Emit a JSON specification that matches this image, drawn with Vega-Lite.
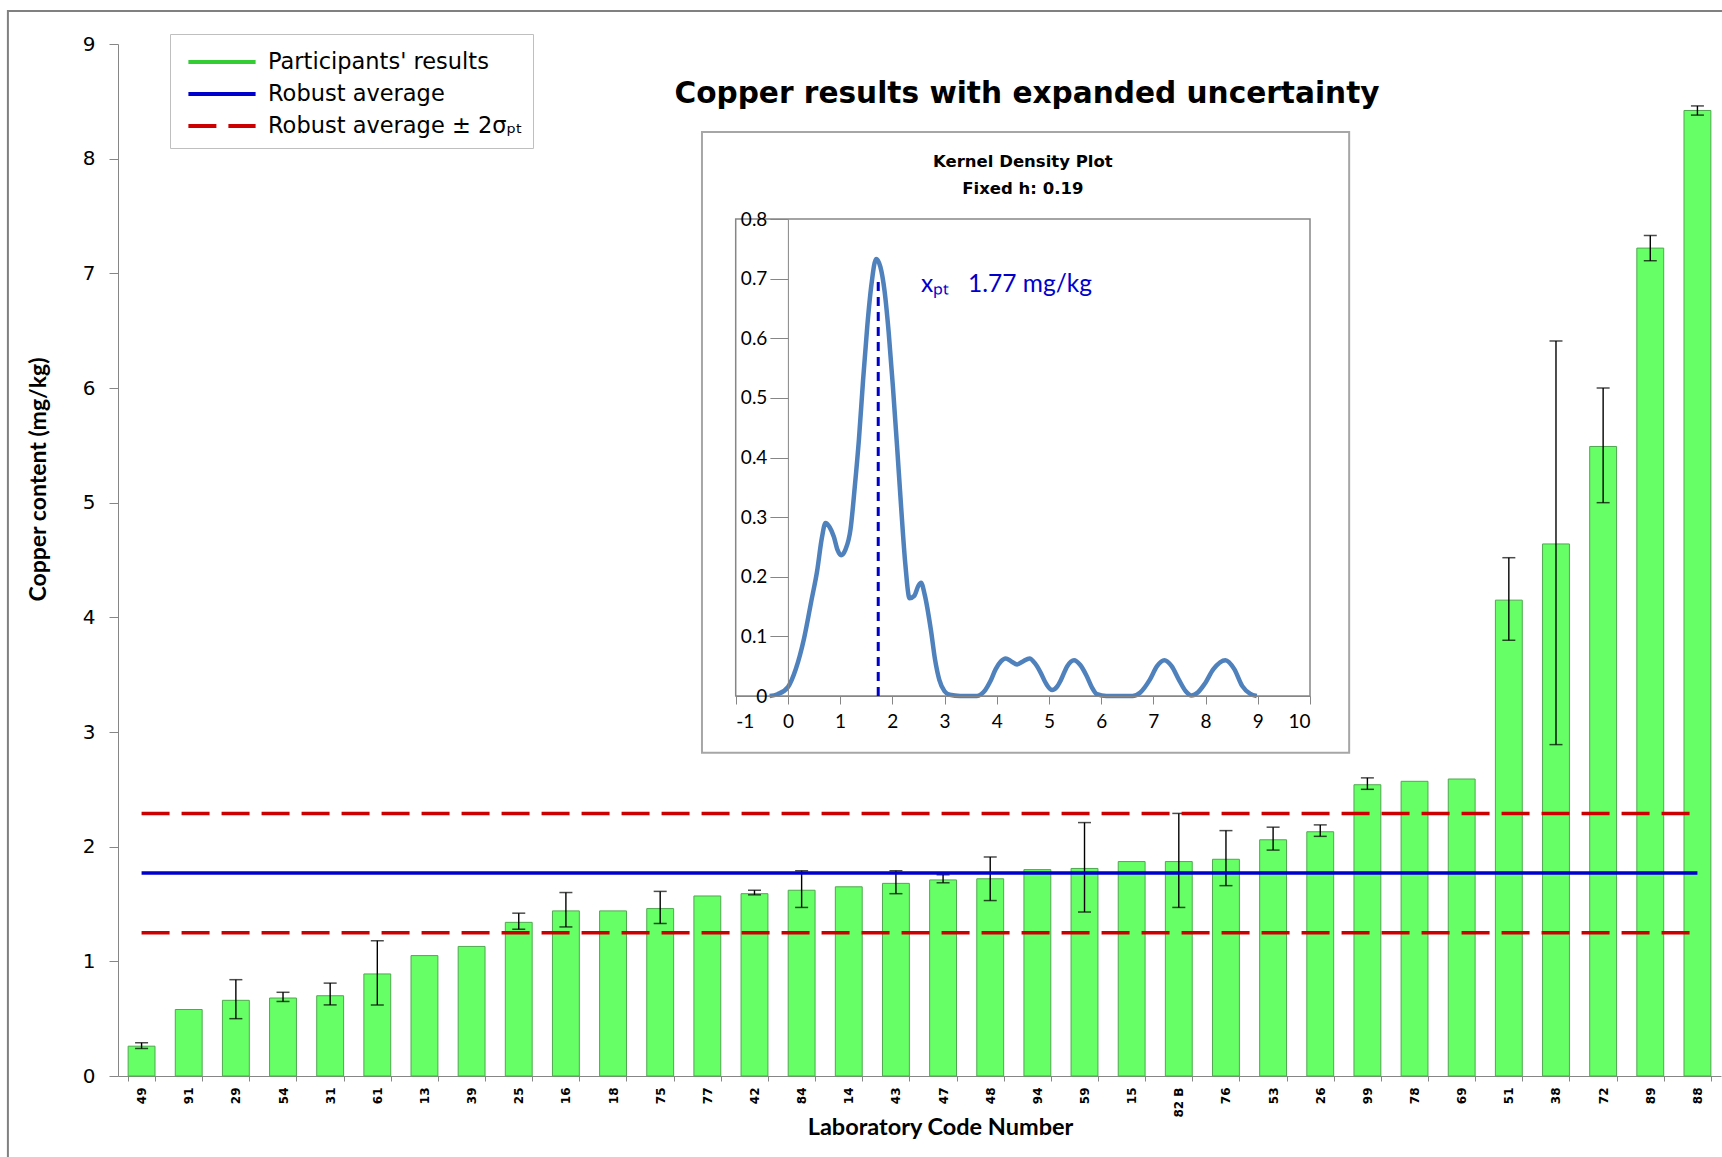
{
  "$schema": "https://vega.github.io/schema/vega-lite/v6.json",
  "width": 1603,
  "height": 1032,
  "autosize": "none",
  "padding": {"left": 118, "top": 44, "right": 1, "bottom": 81},
  "background": "white",
  "config": {"view": {"stroke": null}, "font": "DejaVu Sans"},
  "datasets": {
    "labs": [
      {"lab": "49", "value": 0.26, "lo": 0.24, "hi": 0.29},
      {"lab": "91", "value": 0.58},
      {"lab": "29", "value": 0.66, "lo": 0.50, "hi": 0.84},
      {"lab": "54", "value": 0.68, "lo": 0.65, "hi": 0.73},
      {"lab": "31", "value": 0.70, "lo": 0.62, "hi": 0.81},
      {"lab": "61", "value": 0.89, "lo": 0.62, "hi": 1.18},
      {"lab": "13", "value": 1.05},
      {"lab": "39", "value": 1.13},
      {"lab": "25", "value": 1.34, "lo": 1.28, "hi": 1.42},
      {"lab": "16", "value": 1.44, "lo": 1.30, "hi": 1.60},
      {"lab": "18", "value": 1.44},
      {"lab": "75", "value": 1.46, "lo": 1.33, "hi": 1.61},
      {"lab": "77", "value": 1.57},
      {"lab": "42", "value": 1.59, "lo": 1.58, "hi": 1.62},
      {"lab": "84", "value": 1.62, "lo": 1.47, "hi": 1.79},
      {"lab": "14", "value": 1.65},
      {"lab": "43", "value": 1.68, "lo": 1.59, "hi": 1.79},
      {"lab": "47", "value": 1.71, "lo": 1.685, "hi": 1.755},
      {"lab": "48", "value": 1.72, "lo": 1.53, "hi": 1.91},
      {"lab": "94", "value": 1.80},
      {"lab": "59", "value": 1.81, "lo": 1.43, "hi": 2.21},
      {"lab": "15", "value": 1.87},
      {"lab": "82 B", "value": 1.87, "lo": 1.47, "hi": 2.29},
      {"lab": "76", "value": 1.89, "lo": 1.66, "hi": 2.14},
      {"lab": "53", "value": 2.06, "lo": 1.97, "hi": 2.17},
      {"lab": "26", "value": 2.13, "lo": 2.09, "hi": 2.19},
      {"lab": "99", "value": 2.54, "lo": 2.50, "hi": 2.60},
      {"lab": "78", "value": 2.57},
      {"lab": "69", "value": 2.59},
      {"lab": "51", "value": 4.15, "lo": 3.80, "hi": 4.52},
      {"lab": "38", "value": 4.64, "lo": 2.89, "hi": 6.41},
      {"lab": "72", "value": 5.49, "lo": 5.00, "hi": 6.00},
      {"lab": "89", "value": 7.22, "lo": 7.11, "hi": 7.33},
      {"lab": "88", "value": 8.42, "lo": 8.38, "hi": 8.46}
    ],
    "lines": [
      {"series": "Robust average", "y": 1.77, "from": "49", "to": "88"},
      {"series": "Robust average ± 2σₚₜ", "y": 1.25, "from": "49", "to": "88"},
      {"series": "Robust average ± 2σₚₜ", "y": 2.29, "from": "49", "to": "88"}
    ],
    "kde": [
      {"x": -0.35, "d": 0}, {"x": -0.2, "d": 0.003}, {"x": 0, "d": 0.015}, {"x": 0.15, "d": 0.045},
      {"x": 0.31, "d": 0.097}, {"x": 0.45, "d": 0.16}, {"x": 0.56, "d": 0.21}, {"x": 0.65, "d": 0.265},
      {"x": 0.72, "d": 0.29}, {"x": 0.8, "d": 0.283}, {"x": 0.88, "d": 0.267}, {"x": 0.95, "d": 0.245},
      {"x": 1.02, "d": 0.236}, {"x": 1.1, "d": 0.245}, {"x": 1.2, "d": 0.28}, {"x": 1.28, "d": 0.35},
      {"x": 1.36, "d": 0.43}, {"x": 1.44, "d": 0.53}, {"x": 1.52, "d": 0.62}, {"x": 1.6, "d": 0.69},
      {"x": 1.69, "d": 0.733}, {"x": 1.77, "d": 0.72}, {"x": 1.85, "d": 0.68}, {"x": 1.93, "d": 0.61},
      {"x": 2.01, "d": 0.52}, {"x": 2.09, "d": 0.42}, {"x": 2.17, "d": 0.315}, {"x": 2.25, "d": 0.22},
      {"x": 2.33, "d": 0.164}, {"x": 2.42, "d": 0.168}, {"x": 2.5, "d": 0.185}, {"x": 2.55, "d": 0.19},
      {"x": 2.62, "d": 0.17}, {"x": 2.74, "d": 0.11}, {"x": 2.82, "d": 0.06}, {"x": 2.9, "d": 0.027},
      {"x": 3.0, "d": 0.008}, {"x": 3.1, "d": 0.002}, {"x": 3.3, "d": 0}, {"x": 3.62, "d": 0},
      {"x": 3.7, "d": 0.003}, {"x": 3.78, "d": 0.01}, {"x": 3.88, "d": 0.025}, {"x": 3.98, "d": 0.045},
      {"x": 4.08, "d": 0.058}, {"x": 4.17, "d": 0.063}, {"x": 4.28, "d": 0.058}, {"x": 4.39, "d": 0.053},
      {"x": 4.5, "d": 0.058}, {"x": 4.63, "d": 0.063}, {"x": 4.73, "d": 0.055}, {"x": 4.83, "d": 0.041},
      {"x": 4.95, "d": 0.02}, {"x": 5.06, "d": 0.01}, {"x": 5.15, "d": 0.015}, {"x": 5.23, "d": 0.027},
      {"x": 5.35, "d": 0.05}, {"x": 5.48, "d": 0.06}, {"x": 5.6, "d": 0.052}, {"x": 5.72, "d": 0.034},
      {"x": 5.82, "d": 0.015}, {"x": 5.92, "d": 0.003}, {"x": 6.1, "d": 0}, {"x": 6.6, "d": 0},
      {"x": 6.75, "d": 0.006}, {"x": 6.93, "d": 0.027}, {"x": 7.07, "d": 0.05}, {"x": 7.21, "d": 0.06},
      {"x": 7.35, "d": 0.05}, {"x": 7.49, "d": 0.027}, {"x": 7.62, "d": 0.008}, {"x": 7.73, "d": 0.001},
      {"x": 7.85, "d": 0.006}, {"x": 7.98, "d": 0.02}, {"x": 8.15, "d": 0.045}, {"x": 8.38, "d": 0.06},
      {"x": 8.55, "d": 0.045}, {"x": 8.7, "d": 0.017}, {"x": 8.85, "d": 0.004}, {"x": 8.98, "d": 0}
    ]
  },
  "layer": [
    {
      "layer": [
        {
          "data": {"name": "labs"},
          "mark": {"type": "bar", "fill": "#66FF66", "stroke": "#4FA84F", "strokeWidth": 1},
          "encoding": {
            "x": {"field": "lab", "type": "nominal", "sort": null, "title": "Laboratory  Code Number",
              "scale": {"paddingInner": 0.43, "paddingOuter": 0.215},
              "axis": {"labelAngle": -90, "labelFont": "DejaVu Sans", "labelFontWeight": "bold", "labelFontSize": 12, "labelColor": "#000000",
                "tickBand": "extent", "tickSize": 5, "tickColor": "#868686", "domainColor": "#868686", "labelPadding": 6,
                "titleFont": "Lato", "titleFontSize": 23.5, "titleFontWeight": "bold", "titleColor": "#000000",
                "titleX": 822, "titleY": 51, "titleBaseline": "middle", "titleAlign": "center"}},
            "y": {"field": "value", "type": "quantitative", "title": "Copper content (mg/kg)",
              "scale": {"domain": [0, 9], "nice": false},
              "axis": {"values": [0, 1, 2, 3, 4, 5, 6, 7, 8, 9], "format": "d", "grid": false, "labelFont": "DejaVu Sans", "labelFontSize": 20, "labelColor": "#000000",
                "tickSize": 9, "tickColor": "#868686", "domainColor": "#868686", "labelPadding": 14,
                "titleFont": "Lato", "titleFontSize": 23, "titleFontWeight": "bold", "titleColor": "#000000",
                "titleX": -80, "titleY": 435, "titleAngle": 270, "titleBaseline": "middle", "titleAlign": "center"}}
          }
        },
        {
          "data": {"name": "labs"},
          "transform": [{"filter": "isValid(datum.lo)"}],
          "mark": {"type": "rule", "color": "#000000", "strokeWidth": 1.4},
          "encoding": {
            "x": {"field": "lab", "type": "nominal", "sort": null, "title": "Laboratory  Code Number"},
            "y": {"field": "lo", "type": "quantitative", "title": "Copper content (mg/kg)"},
            "y2": {"field": "hi"}
          }
        },
        {
          "data": {"name": "labs"},
          "transform": [{"filter": "isValid(datum.lo)"}, {"fold": ["lo", "hi"], "as": ["k", "v"]}],
          "mark": {"type": "tick", "orient": "horizontal", "size": 13, "thickness": 1.5, "color": "#000000"},
          "encoding": {
            "x": {"field": "lab", "type": "nominal", "sort": null, "title": "Laboratory  Code Number"},
            "y": {"field": "v", "type": "quantitative", "title": "Copper content (mg/kg)"}
          }
        },
        {
          "data": {"name": "lines"},
          "mark": {"type": "rule", "strokeWidth": 3.5},
          "encoding": {
            "x": {"field": "from", "type": "nominal", "sort": null, "title": "Laboratory  Code Number"},
            "x2": {"field": "to"},
            "y": {"field": "y", "type": "quantitative", "title": "Copper content (mg/kg)"},
            "color": {"field": "series", "type": "nominal",
              "scale": {"domain": ["Participants' results", "Robust average", "Robust average ± 2σₚₜ"], "range": ["#33CC33", "#0000CC", "#CC0000"]},
              "legend": {"orient": "none", "legendX": 52, "legendY": -10, "title": null, "symbolType": "M-0.6,0H3.6", "symbolSize": 1024, "symbolStrokeWidth": 4,
                "labelFont": "DejaVu Sans", "labelFontSize": 22.5, "labelColor": "#000000", "labelOffset": 52, "labelLimit": 500,
                "labelExpr": "datum.label + '\u00a0\u00a0\u00a0\u00a0\u00a0'",
                "padding": 10, "rowPadding": 2, "strokeColor": "#BFBFBF", "fillColor": "#FFFFFF"}},
            "strokeDash": {"field": "series", "type": "nominal",
              "scale": {"domain": ["Participants' results", "Robust average", "Robust average ± 2σₚₜ"], "range": [[1, 0], [1, 0], [28, 12]]}}
          }
        }
      ]
    },
    {
      "layer": [
        {
          "data": {"values": [{}]},
          "mark": {"type": "rect", "fill": null, "stroke": "#808080", "strokeWidth": 2},
          "encoding": {
            "x": {"datum": -14.94, "type": "quantitative", "scale": {"domain": [-1, 10], "range": [617.7, 1192]}},
            "x2": {"datum": 20},
            "y": {"datum": 1.149, "type": "quantitative", "scale": {"domain": [0, 0.8], "range": [652, 175]}},
            "y2": {"datum": -1}
          }
        },
        {
          "data": {"values": [{}]},
          "mark": {"type": "text", "text": "Copper results with expanded uncertainty", "font": "DejaVu Sans", "fontSize": 29.6, "fontWeight": "bold", "color": "#000000", "align": "center", "baseline": "middle"},
          "encoding": {
            "x": {"datum": 4.58, "type": "quantitative"},
            "y": {"datum": 1.009, "type": "quantitative"}
          }
        },
        {
          "data": {"values": [{}]},
          "mark": {"type": "rect", "fill": "#FFFFFF", "stroke": "#A6A6A6", "strokeWidth": 2},
          "encoding": {
            "x": {"datum": -1.646, "type": "quantitative"},
            "x2": {"datum": 10.75},
            "y": {"datum": 0.946, "type": "quantitative"},
            "y2": {"datum": -0.095}
          }
        },
        {
          "data": {"values": [{}]},
          "mark": {"type": "rect", "fill": null, "stroke": "#868686", "strokeWidth": 1.5},
          "encoding": {
            "x": {"datum": -1, "type": "quantitative"},
            "x2": {"datum": 10},
            "y": {"datum": 0.8, "type": "quantitative"},
            "y2": {"datum": 0}
          }
        },
        {
          "data": {"name": "kde"},
          "mark": {"type": "line", "color": "#4F81BD", "strokeWidth": 4.5, "interpolate": "monotone"},
          "encoding": {
            "x": {"field": "x", "type": "quantitative",
              "axis": {"orient": "bottom", "offset": -380, "zindex": 1, "values": [-1, 0, 1, 2, 3, 4, 5, 6, 7, 8, 9, 10], "labelExpr": "toString(datum.value)", "title": null, "grid": false,
                "labelFont": "Lato", "labelFontSize": 19, "labelColor": "#000000", "tickSize": 8, "tickColor": "#868686", "domainColor": "#868686", "labelPadding": 8}},
            "y": {"field": "d", "type": "quantitative",
              "axis": {"orient": "left", "offset": -669.9, "zindex": 1, "values": [0, 0.1, 0.2, 0.3, 0.4, 0.5, 0.6, 0.7, 0.8], "format": "~g", "title": null, "grid": false,
                "labelFont": "Lato", "labelFontSize": 19, "labelColor": "#000000", "tickSize": 18, "tickColor": "#868686", "domainColor": "#868686", "labelPadding": 3}}
          }
        },
        {
          "data": {"values": [{}]},
          "mark": {"type": "rule", "color": "#0000CC", "strokeWidth": 3, "strokeDash": [9, 6]},
          "encoding": {
            "x": {"datum": 1.73, "type": "quantitative"},
            "y": {"datum": 0, "type": "quantitative"},
            "y2": {"datum": 0.70}
          }
        },
        {
          "data": {"values": [{}]},
          "mark": {"type": "text", "text": "xₚₜ\u00a0\u00a0 1.77 mg/kg", "font": "Lato", "fontSize": 24.5, "color": "#0000CC", "align": "left", "baseline": "middle"},
          "encoding": {
            "x": {"datum": 2.55, "type": "quantitative"},
            "y": {"datum": 0.69, "type": "quantitative"}
          }
        },
        {
          "data": {"values": [{}]},
          "mark": {"type": "text", "text": "Kernel Density Plot", "font": "DejaVu Sans", "fontSize": 16.5, "fontWeight": "bold", "color": "#000000", "align": "center", "baseline": "middle"},
          "encoding": {
            "x": {"datum": 4.5, "type": "quantitative"},
            "y": {"datum": 0.8956, "type": "quantitative"}
          }
        },
        {
          "data": {"values": [{}]},
          "mark": {"type": "text", "text": "Fixed h: 0.19", "font": "DejaVu Sans", "fontSize": 16.5, "fontWeight": "bold", "color": "#000000", "align": "center", "baseline": "middle"},
          "encoding": {
            "x": {"datum": 4.5, "type": "quantitative"},
            "y": {"datum": 0.850, "type": "quantitative"}
          }
        }
      ]
    }
  ],
  "resolve": {"scale": {"x": "independent", "y": "independent"}, "axis": {"x": "independent", "y": "independent"}}
}
